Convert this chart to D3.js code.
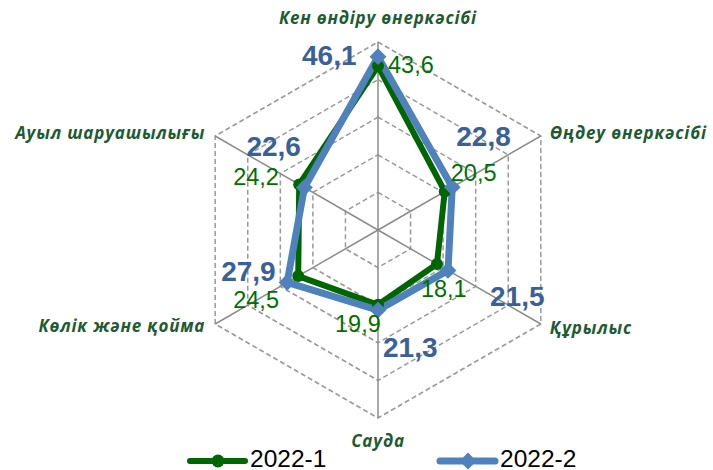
<!DOCTYPE html>
<html>
<head>
<meta charset="utf-8">
<script src="https://cdn.jsdelivr.net/npm/d3@7"></script>
<style>
  body { margin: 0; background: #fff; }
  svg { display: block; font-family: "Liberation Sans", Arial, sans-serif; }
</style>
</head>
<body>
<svg id="chart" width="713" height="470"></svg>
<script>
const categories = ["Кен өндіру өнеркәсібі", "Өңдеу өнеркәсібі", "Құрылыс", "Сауда", "Көлік және қойма", "Ауыл шаруашылығы"];
const series1 = [43.6, 20.5, 18.1, 19.9, 24.5, 24.2]; // 2022-1
const series2 = [46.1, 22.8, 21.5, 21.3, 27.9, 22.6]; // 2022-2
const seriesNames = ["2022-1", "2022-2"];
const ticks = [10, 20, 30, 40, 50];

// label nudges (px) relative to point, tuned by eye
const off1 = [[10, 7], [6, -10], [-16, 33], [-43, 27], [-65, 32], [-66, 0]];
const off2 = [[-76, 8], [4, -41], [42, 36], [5, 47], [-66, -1], [-58, -32]];

const svg = d3.select("#chart");
const cx = 378, cy = 230, R = 188;
const green = "#006600", blue = "#4F81BD";

const r = d3.scaleLinear().domain([0, 50]).range([0, R]);
const angle = i => i * Math.PI / 3; // clockwise from top
const pt = (i, v) => [cx + r(v) * Math.sin(angle(i)), cy - r(v) * Math.cos(angle(i))];

// grid rings
const g = svg.append("g");
ticks.forEach(t => {
  g.append("path")
    .attr("d", d3.line()(categories.map((c, i) => pt(i, t))) + "Z")
    .attr("fill", "none")
    .attr("stroke", "#999")
    .attr("stroke-width", 1.5)
    .attr("stroke-dasharray", "5,3");
});
// spokes
categories.forEach((c, i) => {
  const p = pt(i, 50);
  g.append("line")
    .attr("x1", cx).attr("y1", cy).attr("x2", p[0]).attr("y2", p[1])
    .attr("stroke", "#8c8c8c").attr("stroke-width", 1.5);
});

// category labels
const catPos = [
  { dx: 0, dy: -18, anchor: "middle" },
  { dx: 9, dy: 3, anchor: "start" },
  { dx: 9, dy: 10, anchor: "start" },
  { dx: 0, dy: 29, anchor: "middle" },
  { dx: -10, dy: 8, anchor: "end" },
  { dx: -10, dy: 3, anchor: "end" }
];
svg.selectAll(".cat")
  .data(categories)
  .join("text")
  .attr("class", "cat")
  .attr("x", (d, i) => pt(i, 50)[0] + catPos[i].dx)
  .attr("y", (d, i) => pt(i, 50)[1] + catPos[i].dy)
  .attr("text-anchor", (d, i) => catPos[i].anchor)
  .attr("font-family", "'Open Sans', sans-serif")
  .attr("font-size", 17)
  .attr("letter-spacing", 0.8)
  .attr("font-weight", "bold")
  .attr("font-style", "italic")
  .attr("fill", "#1D5B33")
  .text(d => d);

// series lines
function drawSeries(vals, color, width) {
  svg.append("path")
    .attr("d", d3.line()(vals.map((v, i) => pt(i, v))) + "Z")
    .attr("fill", "none")
    .attr("stroke", color)
    .attr("stroke-width", width)
    .attr("stroke-linejoin", "round");
}
drawSeries(series1, green, 6);
drawSeries(series2, blue, 7);

svg.selectAll(".m1")
  .data(series1)
  .join("circle")
  .attr("cx", (d, i) => pt(i, d)[0])
  .attr("cy", (d, i) => pt(i, d)[1])
  .attr("r", 6)
  .attr("fill", green);

const diamond = d3.symbol().type(d3.symbolDiamond2).size(180);
svg.selectAll(".m2")
  .data(series2)
  .join("path")
  .attr("transform", (d, i) => `translate(${pt(i, d)[0]},${pt(i, d)[1]})`)
  .attr("d", diamond)
  .attr("fill", blue);

const fmt = v => v.toFixed(1).replace(".", ",");

// data labels
svg.selectAll(".l1")
  .data(series1)
  .join("text")
  .attr("x", (d, i) => pt(i, d)[0] + off1[i][0])
  .attr("y", (d, i) => pt(i, d)[1] + off1[i][1])
  .attr("font-size", 23.5)
  .attr("fill", "#007000")
  .text(fmt);

svg.selectAll(".l2")
  .data(series2)
  .join("text")
  .attr("x", (d, i) => pt(i, d)[0] + off2[i][0])
  .attr("y", (d, i) => pt(i, d)[1] + off2[i][1])
  .attr("font-size", 28)
  .attr("font-weight", "bold")
  .attr("fill", "#3A6195")
  .text(fmt);

// legend
const legend = svg.append("g").attr("transform", "translate(0,461)");
const lg = [
  { x: 190, color: green, name: seriesNames[0], w: 6, mark: "circle" },
  { x: 440, color: blue, name: seriesNames[1], w: 7, mark: "diamond" }
];
lg.forEach(d => {
  legend.append("line")
    .attr("x1", d.x).attr("x2", d.x + 55)
    .attr("stroke", d.color).attr("stroke-width", d.w)
    .attr("stroke-linecap", "round");
  if (d.mark === "circle") {
    legend.append("circle").attr("cx", d.x + 28).attr("r", 6.5).attr("fill", d.color);
  } else {
    legend.append("path").attr("transform", `translate(${d.x + 28},0)`)
      .attr("d", diamond).attr("fill", d.color);
  }
  legend.append("text")
    .attr("x", d.x + 60).attr("y", 5.5)
    .attr("font-size", 24.5)
    .attr("fill", "#000")
    .text(d.name);
});
</script>
</body>
</html>
